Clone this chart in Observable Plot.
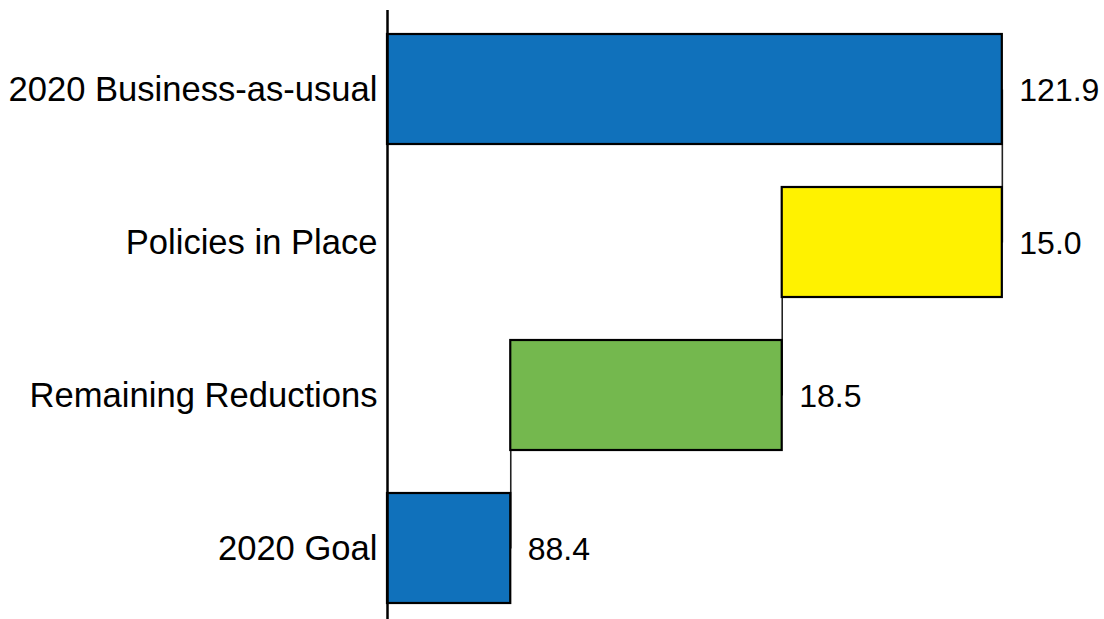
<!DOCTYPE html>
<html>
<head>
<meta charset="utf-8">
<script src="https://cdn.jsdelivr.net/npm/d3@7"></script>
<script src="https://cdn.jsdelivr.net/npm/@observablehq/plot@0.6"></script>
<style>
  html, body { margin: 0; padding: 0; background: #fff; }
  svg { display: block; }
</style>
</head>
<body>
<script>
// Emissions waterfall: 2020 business-as-usual down to the 2020 goal
const categories = ["2020 Business-as-usual", "Policies in Place", "Remaining Reductions", "2020 Goal"];
const values = [121.9, 15.0, 18.5, 88.4];
const kinds = ["total", "decrease", "decrease", "total"];
const colors = ["#1071bb", "#fff200", "#74b84e", "#1071bb"];
const labels = ["121.9", "15.0", "18.5", "88.4"];
const axisStart = 80;
const axisEnd = 127.5;

// Build the waterfall segments: totals start at the axis, decreases step down
let running = 0;
const rows = categories.map((c, i) => {
  let x1, x2;
  if (kinds[i] === "total") {
    x1 = axisStart;
    x2 = values[i];
    running = values[i];
  } else {
    x2 = running;
    x1 = running - values[i];
    running = x1;
  }
  return {category: c, x1, x2, end: Math.max(x1, x2), fill: colors[i], label: labels[i]};
});

// Step connectors between consecutive bars at the shared edge
const connectors = rows.slice(0, -1).map((r, i) => {
  const next = rows[i + 1];
  const edge = kinds[i] === "total" ? r.x2 : r.x1;
  return {x: edge, from: r.category, to: next.category};
});

const chart = Plot.plot({
  width: 1104,
  height: 619,
  marginLeft: 387,
  marginRight: 20,
  marginTop: 10,
  marginBottom: 0,
  style: {fontFamily: "'Liberation Sans', Arial, sans-serif", fontSize: "34.6px", color: "#000", background: "#fff"},
  x: {domain: [axisStart, axisEnd], axis: null},
  y: {
    domain: categories,
    paddingInner: 0.279,
    paddingOuter: 0.117,
    align: 0.6,
    tickSize: 0,
    tickPadding: 10,
    label: null
  },
  marks: [
    Plot.link(connectors, {x1: "x", x2: "x", y1: "from", y2: "to", stroke: "#222", strokeWidth: 1.6}),
    Plot.barX(rows, {x1: "x1", x2: "x2", y: "category", fill: "fill", stroke: "#000", strokeWidth: 2.2}),
    Plot.ruleX([axisStart], {stroke: "#000", strokeWidth: 2.5}),
    Plot.text(rows, {x: "end", y: "category", text: "label", textAnchor: "start", dx: 17, dy: 1, fontSize: 32, fill: "#000"})
  ]
});

document.body.appendChild(chart);
</script>
</body>
</html>
